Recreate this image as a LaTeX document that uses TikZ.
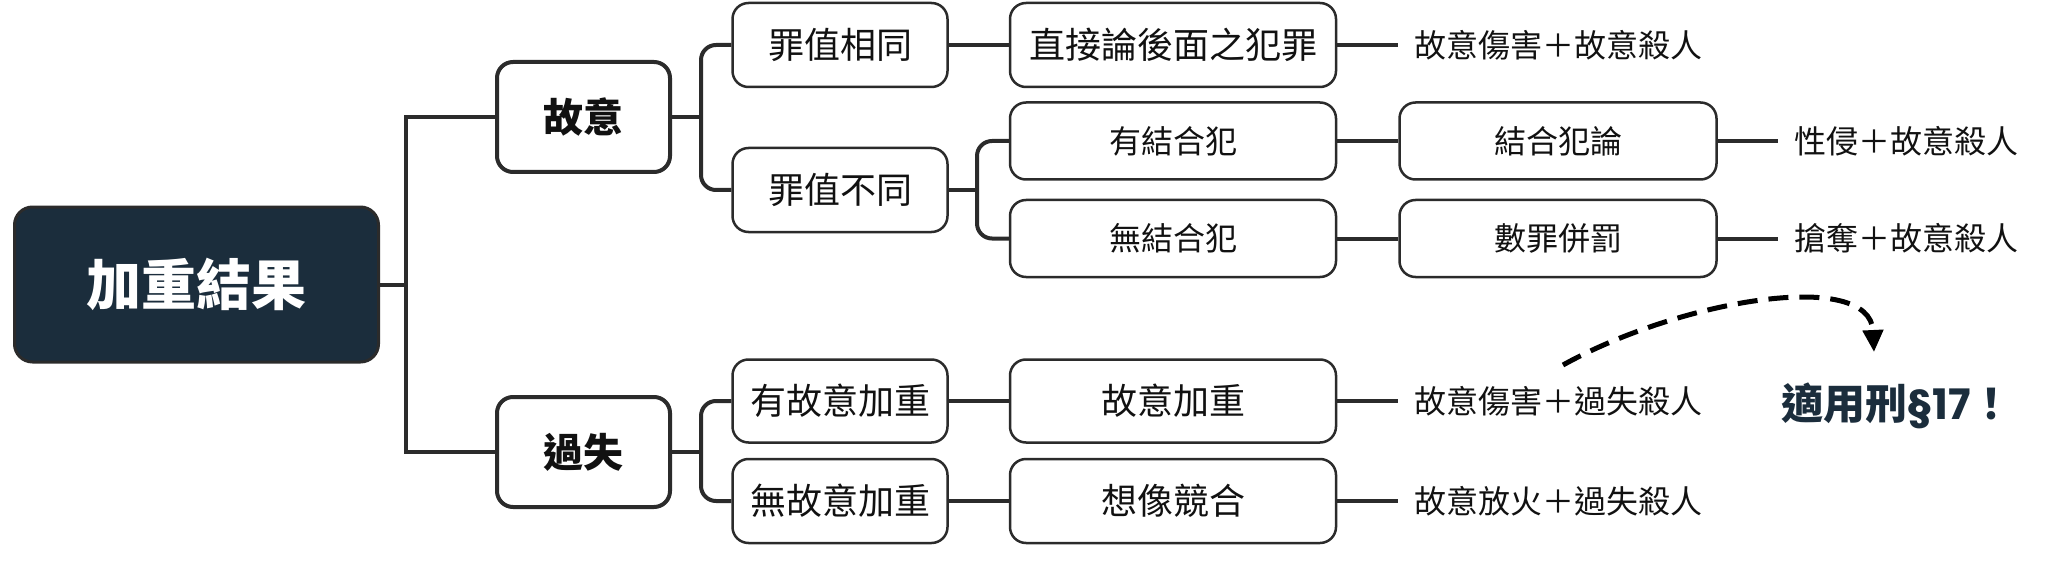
\documentclass[tikz,border=0pt]{standalone}
\usepackage{fontspec}
\setmainfont{Noto Sans CJK TC}
\newfontfamily\latinf{Poppins}
\usetikzlibrary{arrows.meta}
\definecolor{navy}{HTML}{1B2D3C}
\definecolor{edgecol}{HTML}{2B2B2B}
\definecolor{txt}{HTML}{111111}
\tikzset{
  rootbox/.style={draw=edgecol, line width=3pt, rounded corners=18pt, fill=navy, text=white,
    minimum width=364pt, minimum height=155pt, inner sep=0pt, font=\fontsize{55}{60}\selectfont\bfseries},
  lvlone/.style={draw=edgecol, line width=4pt, rounded corners=16pt, fill=white, text=txt,
    minimum width=173pt, minimum height=110pt, inner sep=0pt, font=\fontsize{40}{44}\selectfont\bfseries},
  lvltwo/.style={draw=edgecol, line width=2.5pt, rounded corners=16pt, fill=white, text=txt,
    minimum width=215pt, minimum height=84pt, inner sep=0pt, font=\fontsize{36}{40}\selectfont},
  widebox/.style={draw=edgecol, line width=2.5pt, rounded corners=16pt, fill=white, text=txt,
    minimum width=326pt, minimum height=84pt, inner sep=0pt, font=\fontsize{36}{40}\selectfont},
  smallbox/.style={draw=edgecol, line width=2.5pt, rounded corners=16pt, fill=white, text=txt,
    minimum width=326pt, minimum height=77pt, inner sep=0pt, font=\fontsize{32}{36}\selectfont},
  lbl/.style={anchor=west, inner xsep=16pt, inner ysep=0pt, text=txt, font=\fontsize{32}{36}\selectfont},
  conn/.style={draw=edgecol, line width=4pt},
  rconn/.style={draw=edgecol, line width=4pt, rounded corners=15pt},
}
\begin{document}
\begin{tikzpicture}[x=1pt,y=-1pt]
\useasboundingbox (0,0) rectangle (2068,572);
% nodes
\node[rootbox] (root) at (196.5,284.5) {加重結果};
\node[lvlone] (guyi) at (583.5,117) {故意};
\node[lvlone] (guoshi) at (583.5,452) {過失};
\node[lvltwo] (zxt) at (840,45) {罪值相同};
\node[lvltwo] (zbt) at (840,190) {罪值不同};
\node[widebox] (zj) at (1173,45) {直接論後面之犯罪};
\node[smallbox] (yjh) at (1173,141) {有結合犯};
\node[smallbox] (wjh) at (1173,238.5) {無結合犯};
\node[smallbox, minimum width=317pt] (jhl) at (1558,141) {結合犯論};
\node[smallbox, minimum width=317pt] (szb) at (1558,238.5) {數罪併罰};
\node[lvltwo, minimum height=83pt] (ygy) at (840,401) {有故意加重};
\node[lvltwo] (wgy) at (840,501) {無故意加重};
\node[widebox, minimum height=83pt] (gyjz) at (1173,401) {故意加重};
\node[widebox] (xxjh) at (1173,501) {想像競合};
% labels
\node[lbl] (l1) at (1398,45) {故意傷害＋故意殺人};
\node[lbl] (l2) at (1778,141) {性侵＋故意殺人};
\node[lbl] (l3) at (1778,238.5) {搶奪＋故意殺人};
\node[lbl] (l4) at (1398,401) {故意傷害＋過失殺人};
\node[lbl] (l5) at (1398,501) {故意放火＋過失殺人};
\node[text=navy, inner sep=0pt, font=\fontsize{42}{46}\selectfont\bfseries] (s17) at (1897,406) {適用刑{\latinf\bfseries §17}！};
% trunk
\coordinate (trunk) at (406,284.5);
\draw[conn] (root.east) -- (trunk);
\draw[conn] (guyi.west) -| (trunk) |- (guoshi.west);
% 故意 branch
\coordinate (b1) at (701,117);
\draw[conn] (guyi.east) -- (b1);
\draw[rconn] (zxt.west) -| (b1) |- (zbt.west);
% 罪值不同 branch
\coordinate (b2) at (977,190);
\draw[conn] (zbt.east) -- (b2);
\draw[rconn] (yjh.west) -| (b2) |- (wjh.west);
% 過失 branch
\coordinate (b3) at (701,452);
\draw[conn] (guoshi.east) -- (b3);
\draw[rconn] (ygy.west) -| (b3) |- (wgy.west);
% straight links
\draw[conn] (zxt) -- (zj);
\draw[conn] (yjh) -- (jhl);
\draw[conn] (wjh) -- (szb);
\draw[conn] (ygy) -- (gyjz);
\draw[conn] (wgy) -- (xxjh);
% label links
\draw[conn] (zj.east) -- (l1.west);
\draw[conn] (jhl.east) -- (l2.west);
\draw[conn] (szb.east) -- (l3.west);
\draw[conn] (gyjz.east) -- (l4.west);
\draw[conn] (xxjh.east) -- (l5.west);
% dashed arrow
\coordinate (da) at (1563,365);
\coordinate (db) at (1874,352);
\draw[line width=5pt, black, dash pattern=on 20pt off 11pt, -{Triangle[length=22pt,width=20pt]}]
  (da) .. controls (1680,300) and (1870,268) .. (db);
\end{tikzpicture}
\end{document}
